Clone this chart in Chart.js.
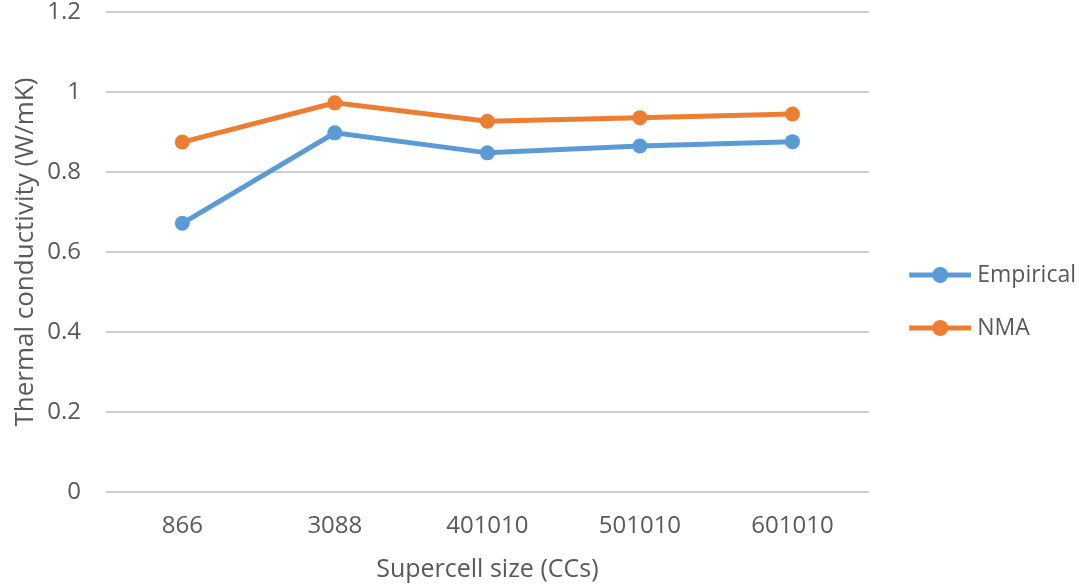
<!DOCTYPE html>
<html lang="en">
<head>
  <meta charset="UTF-8">
  <title>Thermal conductivity vs supercell size</title>
  <script src="https://cdn.jsdelivr.net/npm/chart.js"></script>
  <style>
    body {
      margin: 0;
      background: #fff;
    }
    #wrap {
      width: 1079px;
      height: 585px;
    }
  </style>
</head>
<body>
  <div id="wrap"><canvas id="grafico"></canvas></div>

  <script>
    const categorias = ['866', '3088', '401010', '501010', '601010'];
    const empirical = [0.672, 0.898, 0.848, 0.865, 0.876];
    const nma = [0.875, 0.973, 0.927, 0.936, 0.945];
    const yTicks = [0, 0.2, 0.4, 0.6, 0.8, 1, 1.2];

    const azul = '#5b9bd5';
    const laranja = '#ed7d31';
    const cinza = '#595959';
    const fonte = '"Open Sans", sans-serif';

    // marcador da legenda: linha com bolinha no meio (margem transparente a esquerda)
    function marcador(cor) {
      const c = document.createElement('canvas');
      c.width = 78;
      c.height = 18;
      const g = c.getContext('2d');
      g.strokeStyle = cor;
      g.lineWidth = 5;
      g.beginPath();
      g.moveTo(16, 9);
      g.lineTo(78, 9);
      g.stroke();
      g.fillStyle = cor;
      g.beginPath();
      g.arc(47, 9, 8, 0, Math.PI * 2);
      g.fill();
      return c;
    }
    const marcadores = [marcador(azul), marcador(laranja)];

    const ctx = document.getElementById('grafico').getContext('2d');

    new Chart(ctx, {
      type: 'line',
      data: {
        labels: categorias,
        datasets: [{
          label: 'Empirical',
          data: empirical,
          borderColor: azul,
          backgroundColor: azul,
          borderWidth: 5,
          pointRadius: 7.5,
          pointBorderWidth: 0,
          pointHoverRadius: 7.5,
          tension: 0
        }, {
          label: 'NMA',
          data: nma,
          borderColor: laranja,
          backgroundColor: laranja,
          borderWidth: 5,
          pointRadius: 7.5,
          pointBorderWidth: 0,
          pointHoverRadius: 7.5,
          tension: 0
        }]
      },
      options: {
        responsive: true,
        maintainAspectRatio: false,
        animation: false,
        layout: {
          padding: { top: 0, right: -7, bottom: 0, left: 10 }
        },
        scales: {
          x: {
            offset: true,
            grid: { display: false },
            border: { display: false },
            ticks: { color: cinza, font: { family: fonte, size: 24 }, padding: 12 },
            title: {
              display: true,
              text: 'Supercell size (CCs)',
              color: cinza,
              font: { family: fonte, size: 25 },
              padding: { top: 2, bottom: 0 }
            }
          },
          y: {
            min: 0,
            max: 1.2,
            afterBuildTicks(axis) {
              axis.ticks = yTicks.map(v => ({ value: v }));
            },
            afterFit(axis) {
              axis.width = 96;
            },
            grid: {
              color: '#cfcfcf',
              lineWidth: 2,
              drawTicks: true,
              tickLength: 25,
              tickColor: 'rgba(0,0,0,0)'
            },
            border: { display: false },
            ticks: {
              color: cinza,
              font: { family: fonte, size: 24, lineHeight: 1 },
              padding: 0,
              callback: v => String(v)
            },
            title: {
              display: true,
              text: 'Thermal conductivity (W/mK)',
              color: cinza,
              font: { family: fonte, size: 26 },
              padding: { top: 0, bottom: 0 }
            }
          }
        },
        plugins: {
          tooltip: { enabled: false },
          legend: {
            position: 'right',
            title: { display: true, text: '', font: { size: 10 }, padding: { top: 6, bottom: 0 } },
            labels: {
              color: cinza,
              font: { family: fonte, size: 23 },
              usePointStyle: true,
              pointStyleWidth: 67,
              padding: 30,
              generateLabels(chart) {
                return chart.data.datasets.map((ds, i) => ({
                  text: ds.label,
                  fontColor: cinza,
                  pointStyle: marcadores[i],
                  datasetIndex: i,
                  lineWidth: 0,
                  hidden: false
                }));
              }
            }
          }
        }
      }
    });
  </script>
</body>
</html>
